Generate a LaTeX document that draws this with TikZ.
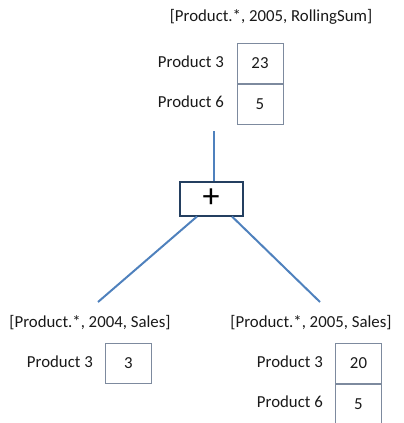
\documentclass[tikz,border=0pt]{standalone}
\usepackage{fontspec}
\setmainfont{Carlito}
\definecolor{linkblue}{RGB}{79,129,189}
\definecolor{cellgray}{RGB}{125,138,158}
\definecolor{opblue}{RGB}{36,63,96}
\begin{document}
\begin{tikzpicture}[x=1pt,y=-1pt,
  lbl/.style={inner sep=0pt,font=\fontsize{16.8}{20}\selectfont,text=black!90},
  cell/.style={draw=cellgray,line width=1pt,minimum width=46pt,minimum height=40pt,inner sep=0pt,
    font=\fontsize{16.8}{20}\selectfont,text=black!90},
  opbox/.style={draw=opblue,line width=2pt,minimum width=63pt,minimum height=34pt,inner sep=0pt,
    font=\fontsize{34}{34}\selectfont},
  link/.style={draw=linkblue,line width=2pt}]
\useasboundingbox (0,0) rectangle (404,423);

% result of the rolling sum
\node[lbl] (ttop) at (271,17) {[Product.*, 2005, RollingSum]};
\node[cell] (t1) at (260,63) {23};
\node[cell,anchor=north] (t2) at (t1.south) {5};
\node[lbl,anchor=east] (tl1) at (224,62) {Product 3};
\node[lbl,anchor=east] (tl2) at (224,102) {Product 6};

% operator
\node[opbox] (plus) at (211,198.5) {+};
\coordinate (up) at (214,131);
\coordinate (dl) at (98,302);
\coordinate (dr) at (320,302);
\draw[link] (up) -- (up |- plus.north);
\draw[link] ([xshift=-14pt]plus.south) -- (dl);
\draw[link] ([xshift=21pt]plus.south) -- (dr);

% 2004 sales
\node[lbl] (tleft) at (90,323) {[Product.*, 2004, Sales]};
\node[cell] (l1) at (128.5,363) {3};
\node[lbl,anchor=east] (ll1) at (93,362) {Product 3};

% 2005 sales (the lower cell runs past the bottom edge)
\node[lbl] (tright) at (311,323) {[Product.*, 2005, Sales]};
\node[cell] (r1) at (358.5,363) {20};
\node[cell,anchor=north,minimum height=44pt,text depth=4pt] (r2) at (r1.south) {5};
\node[lbl,anchor=east] (rl1) at (323,362) {Product 3};
\node[lbl,anchor=east] (rl2) at (323,402) {Product 6};
\end{tikzpicture}
\end{document}
